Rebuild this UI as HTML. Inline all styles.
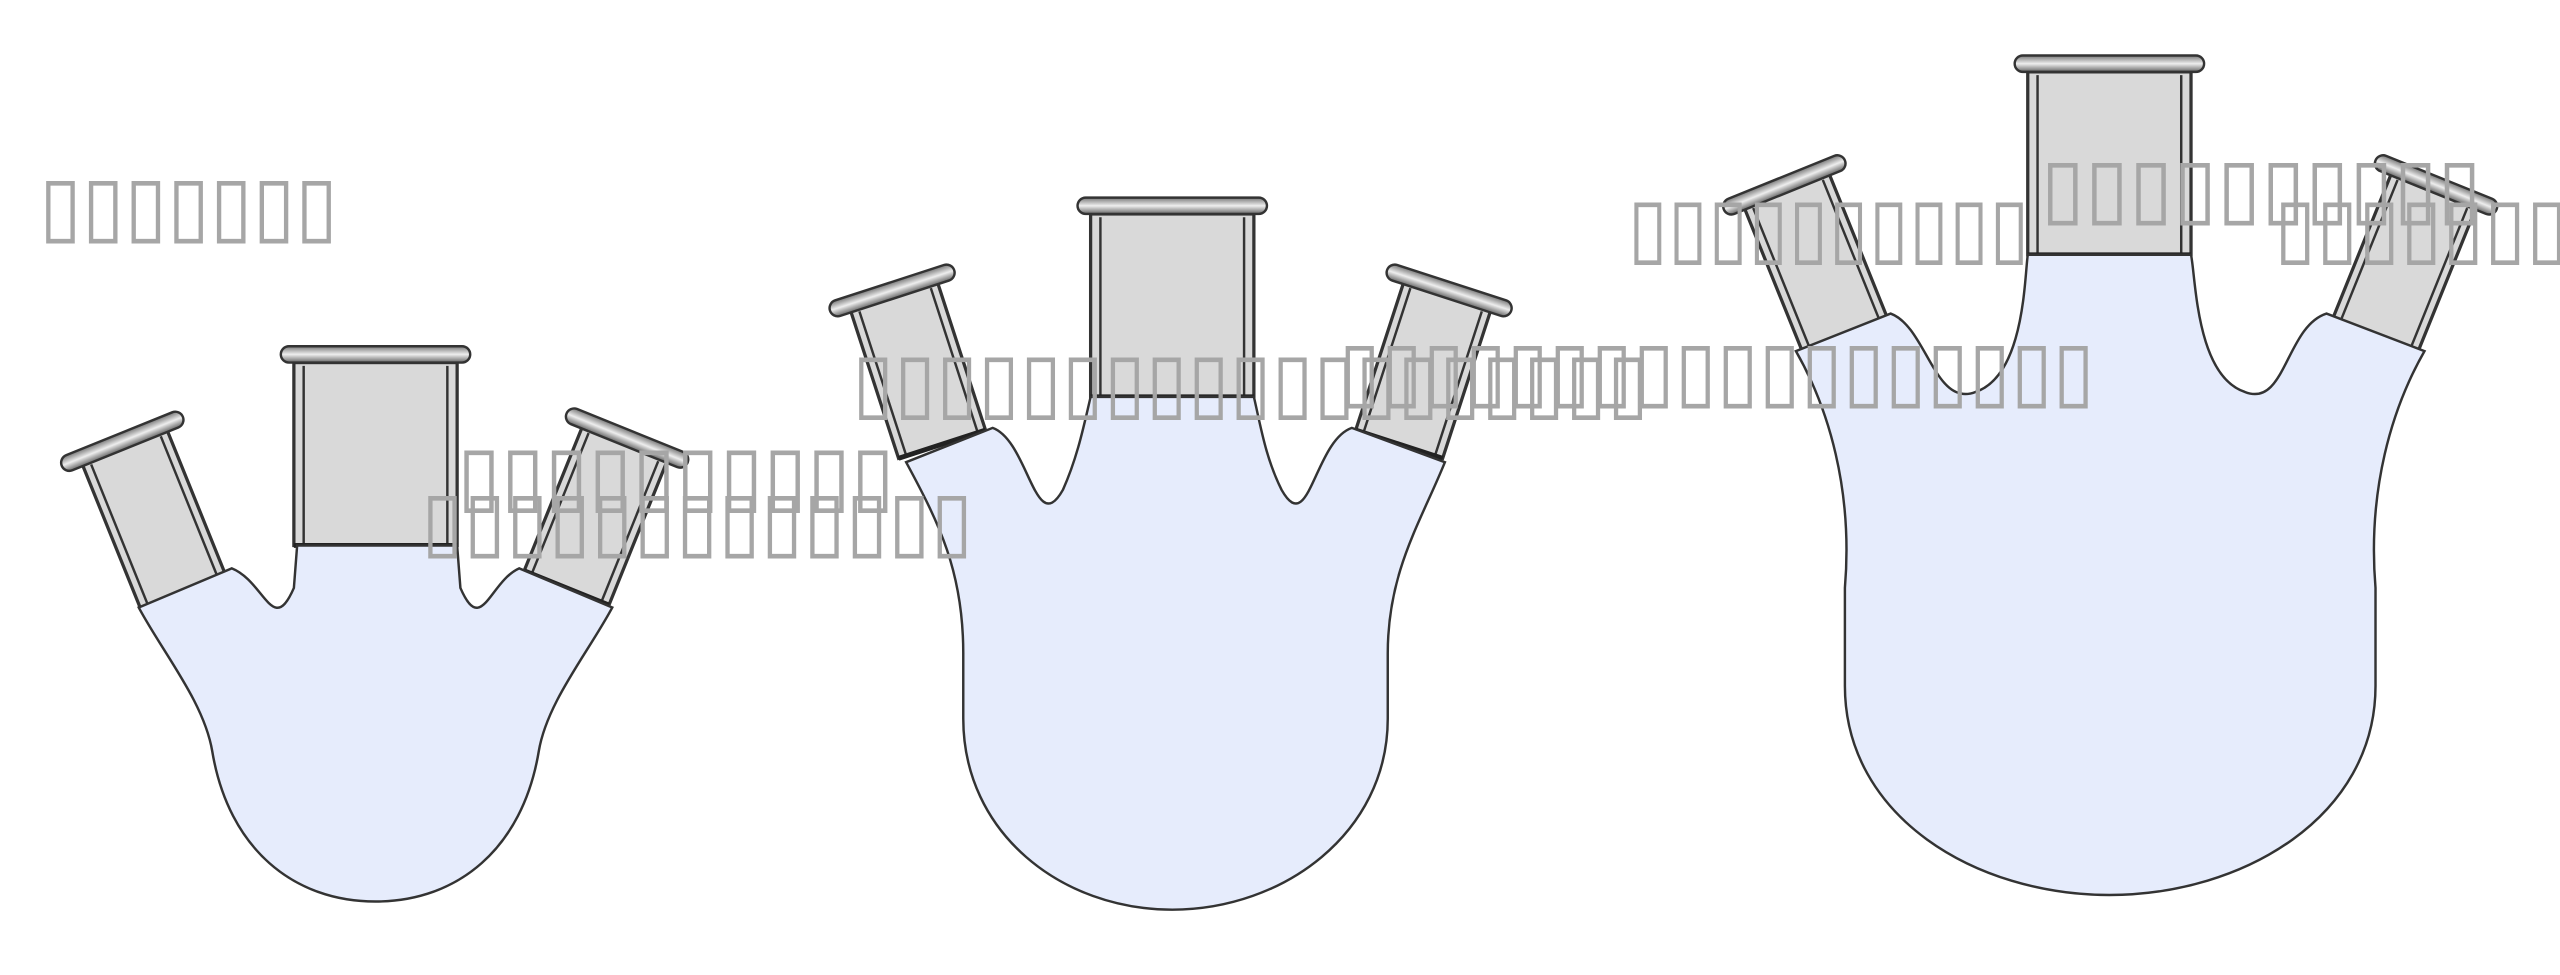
<!DOCTYPE html>
<html><head><meta charset="utf-8"><style>
html,body{margin:0;padding:0;background:#fff;}
svg{display:block;}
text{font-family:"DejaVu Sans","Liberation Sans",sans-serif;fill:#a6a6a6;font-size:50px;}
</style></head><body>
<svg width="2560" height="975" viewBox="0 0 1568 597" preserveAspectRatio="none" xmlns="http://www.w3.org/2000/svg">
<defs>
<linearGradient id="rim" x1="0" y1="0" x2="0" y2="1">
<stop offset="0" stop-color="#777"/><stop offset="0.5" stop-color="#eee"/><stop offset="1" stop-color="#666"/></linearGradient>
<g id="neck">
<rect x="-50" y="-112" width="100" height="112" fill="#d9d9d9" stroke="#333" stroke-width="2"/>
<line x1="-44" y1="-110" x2="-44" y2="0" stroke="#333" stroke-width="1.5"/>
<line x1="44" y1="-110" x2="44" y2="0" stroke="#333" stroke-width="1.5"/>
<line x1="-50" y1="0" x2="50" y2="0" stroke="#222" stroke-width="3"/>
<rect x="-58" y="-122" width="116" height="10" rx="5" fill="url(#rim)" stroke="#333" stroke-width="1.5"/>
</g>
<g id="sneck">
<rect x="-28" y="-95" width="56" height="95" fill="#d9d9d9" stroke="#333" stroke-width="2"/>
<line x1="-23" y1="-93" x2="-23" y2="0" stroke="#333" stroke-width="1.5"/>
<line x1="23" y1="-93" x2="23" y2="0" stroke="#333" stroke-width="1.5"/>
<line x1="-28" y1="0" x2="28" y2="0" stroke="#222" stroke-width="3"/>
<rect x="-40" y="-104" width="80" height="10" rx="5" fill="url(#rim)" stroke="#333" stroke-width="1.5"/>
</g>
</defs>
<!-- Flask 1 -->
<use href="#sneck" transform="translate(112,362) rotate(-22)"/>
<use href="#sneck" transform="translate(347,360) rotate(22)"/>
<use href="#neck" transform="translate(230,334) scale(1,1.0)"/>
<path d="M85 372 C100 400,125 430,130 460 C140 520,180 552,230 552 C280 552,320 520,330 460 C335 430,360 400,375 372 L318 348 C300 356,295 390,282 360 L280 334 L182 334 L180 360 C167 390,162 356,142 348 Z" fill="#e6ecfc" stroke="#333" stroke-width="1.5"/>
<!-- Flask 2 -->
<use href="#sneck" transform="translate(577,272) rotate(-18)"/>
<use href="#sneck" transform="translate(857,272) rotate(18)"/>
<use href="#neck" transform="translate(718,243)"/>
<path d="M555 283 C575 320,590 350,590 400 L590 440 C590 510,650 557,718 557 C786 557,850 510,850 440 L850 400 C850 350,870 320,885 283 L828 262 C805 270,802 330,785 300 C775 280,772 260,768 243 L668 243 C664 260,660 280,651 300 C634 330,630 270,608 262 Z" fill="#e6ecfc" stroke="#333" stroke-width="1.5"/>
<!-- Flask 3 -->
<use href="#sneck" transform="translate(1130,205) rotate(-22)"/>
<use href="#sneck" transform="translate(1455,205) rotate(22)"/>
<use href="#neck" transform="translate(1292,156)"/>
<path d="M1100 215 C1120 250,1135 300,1130 360 L1130 420 C1130 500,1210 548,1292 548 C1374 548,1455 500,1455 420 L1455 360 C1450 300,1465 250,1485 215 L1425 192 C1400 200,1400 250,1375 240 C1345 230,1345 170,1342 156 L1242 156 C1240 170,1240 230,1210 240 C1185 250,1180 200,1158 192 Z" fill="#e6ecfc" stroke="#333" stroke-width="1.5"/>
<!-- labels -->
<text x="24" y="143" textLength="183" lengthAdjust="spacingAndGlyphs">▯▯▯▯▯▯▯</text>
<text x="280" y="308" textLength="268" lengthAdjust="spacingAndGlyphs">▯▯▯▯▯▯▯▯▯▯</text>
<text x="258" y="336" textLength="338" lengthAdjust="spacingAndGlyphs">▯▯▯▯▯▯▯▯▯▯▯▯▯</text>
<text x="522" y="251" textLength="488" lengthAdjust="spacingAndGlyphs">▯▯▯▯▯▯▯▯▯▯▯▯▯▯▯▯▯▯▯</text>
<text x="820" y="244" textLength="463" lengthAdjust="spacingAndGlyphs">▯▯▯▯▯▯▯▯▯▯▯▯▯▯▯▯▯▯</text>
<text x="997" y="156" textLength="246" lengthAdjust="spacingAndGlyphs">▯▯▯▯▯▯▯▯▯▯</text>
<text x="1250" y="132" textLength="270" lengthAdjust="spacingAndGlyphs">▯▯▯▯▯▯▯▯▯▯</text>
<text x="1393" y="156" textLength="180" lengthAdjust="spacingAndGlyphs">▯▯▯▯▯▯▯</text>
</svg>
</body></html>
